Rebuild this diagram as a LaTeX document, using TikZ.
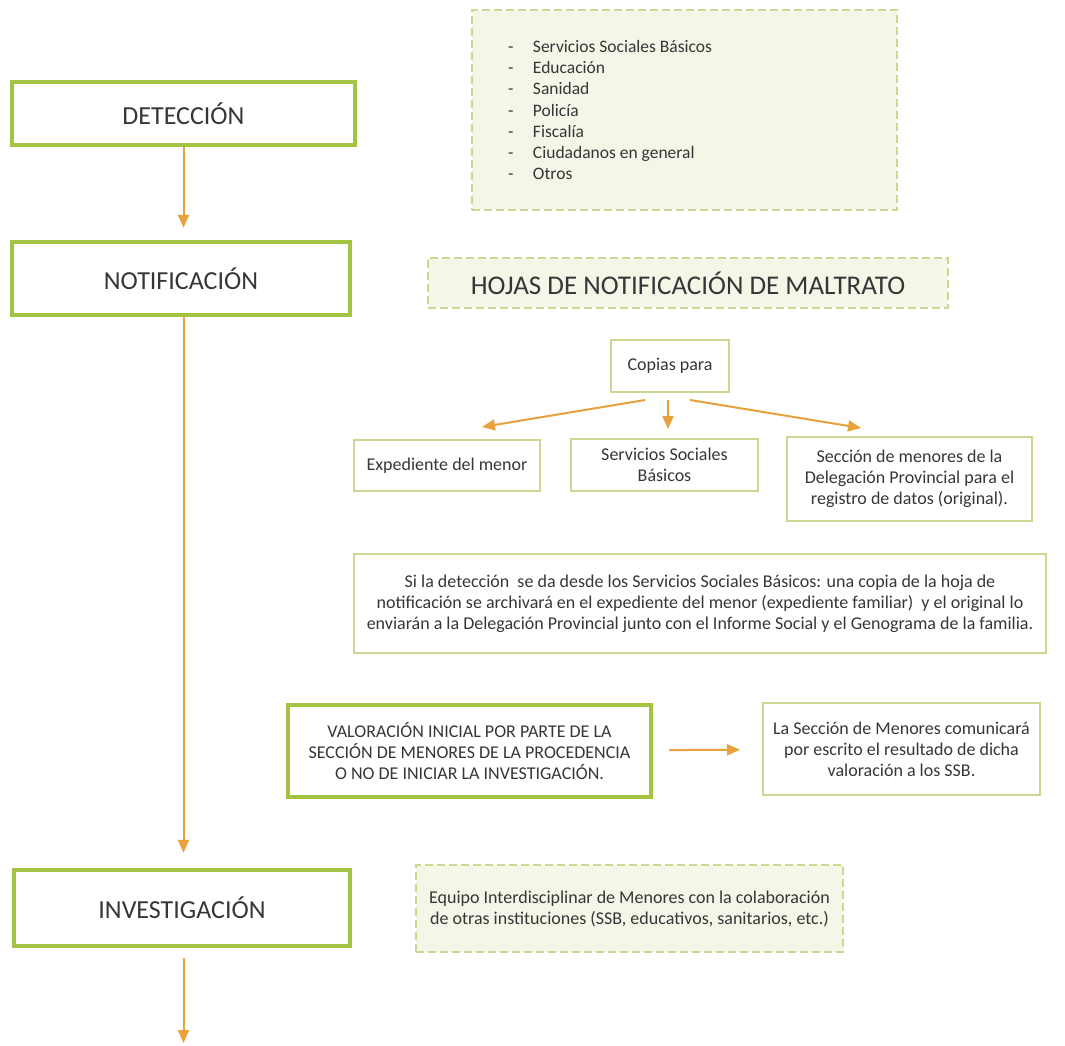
\documentclass[tikz,border=0pt]{standalone}
\usepackage{fontspec}
\setmainfont{Carlito}
\usepackage{xcolor}
\usetikzlibrary{arrows.meta}

\definecolor{stagegreen}{HTML}{A2C440}
\definecolor{edgegreen}{HTML}{C8DA92}
\definecolor{notefill}{HTML}{F4F6E8}
\definecolor{floworange}{HTML}{E9A23B}
\definecolor{inkgray}{HTML}{363636}

\tikzset{
  stage/.style={draw=stagegreen, line width=4.5pt, text=inkgray,
    font=\fontsize{26}{30}\selectfont},
  notebox/.style={draw=edgegreen, dash pattern=on 8pt off 4pt, fill=notefill,
    line width=1.6pt, text=inkgray},
  copybox/.style={draw=edgegreen, line width=2pt, text=inkgray, align=center,
    font=\fontsize{18}{21}\selectfont},
  flow/.style={draw=floworange, line width=2pt,
    -{Triangle[length=13pt,width=11pt]}},
}

\begin{document}
\begin{tikzpicture}[x=1pt,y=-1pt]
\useasboundingbox (0,0) rectangle (1065,1045);

% main stages on the left
\node[stage, minimum width=343pt, minimum height=63pt] (deteccion) at (183.5,113.5) {DETECCIÓN};
\node[stage, minimum width=338pt, minimum height=73pt] (notificacion) at (181,278.5) {NOTIFICACIÓN};
\node[stage, minimum width=336pt, minimum height=76pt] (investigacion) at (182,908) {INVESTIGACIÓN};
\coordinate (fin) at (183.5,1043);

% notes on the right
\node[notebox, minimum height=200pt, text width=353pt, inner xsep=36pt, align=flush left,
  font=\fontsize{17.5}{21.3}\selectfont] (agentes) at (684.5,110) {%
  \makebox[25pt][l]{-}Servicios Sociales Básicos\\
  \makebox[25pt][l]{-}Educación\\
  \makebox[25pt][l]{-}Sanidad\\
  \makebox[25pt][l]{-}Policía\\
  \makebox[25pt][l]{-}Fiscalía\\
  \makebox[25pt][l]{-}Ciudadanos en general\\
  \makebox[25pt][l]{-}Otros};
\node[notebox, minimum width=520pt, minimum height=50pt,
  font=\fontsize{27}{30}\selectfont] (hojas) at (688,283) {HOJAS DE NOTIFICACIÓN DE MALTRATO};

\node[copybox, minimum width=118pt, minimum height=52pt] (copias) at (670,366) {Copias para};
\node[copybox, minimum width=186pt, minimum height=51pt] (expediente) at (447,465.5) {Expediente del menor};
\node[copybox, minimum width=187pt, minimum height=52pt] (ssb) at (664.5,465) {Servicios Sociales\\Básicos};
\node[copybox, minimum width=245pt, minimum height=84pt] (seccion) at (909.5,479) {Sección de menores de la\\Delegación Provincial para el\\registro de datos (original).};

\node[copybox, minimum width=692pt, minimum height=99pt] (sidet) at (700,603.5) {Si la detección\ \ se da desde los Servicios Sociales Básicos: una copia de la hoja de\\notificación se archivará en el expediente del menor (expediente familiar)\ \ y el original lo\\enviarán a la Delegación Provincial junto con el Informe Social y el Genograma de la familia.};

\node[copybox, draw=stagegreen, line width=4.5pt, minimum width=363pt, minimum height=92pt] (valoracion) at (469.5,751) {VALORACIÓN INICIAL POR PARTE DE LA\\SECCIÓN DE MENORES DE LA PROCEDENCIA\\O NO DE INICIAR LA INVESTIGACIÓN.};
\node[copybox, minimum width=277pt, minimum height=92pt] (comunica) at (901.5,749) {La Sección de Menores comunicará\\por escrito el resultado de dicha\\valoración a los SSB.};

\node[notebox, minimum width=427pt, minimum height=87pt, align=center,
  font=\fontsize{18}{21}\selectfont] (equipo) at (629.5,908.5) {Equipo Interdisciplinar de Menores con la colaboración\\de otras instituciones (SSB, educativos, sanitarios, etc.)};

% flow arrows
\draw[flow, shorten >=12pt] (deteccion.south) -- (deteccion.south |- notificacion.north);
\draw[flow, shorten >=15pt] (deteccion.south |- notificacion.south) -- (deteccion.south |- investigacion.north);
\draw[flow, shorten <=10pt] (deteccion.south |- investigacion.south) -- (fin);
\draw[flow] ([xshift=-25pt,yshift=-7pt]copias.south) -- ([xshift=35pt,yshift=12pt]expediente.north);
\draw[flow] ([xshift=-2pt,yshift=-7pt]copias.south) -- ([xshift=3.5pt,yshift=9pt]ssb.north);
\draw[flow] ([xshift=20pt,yshift=-7pt]copias.south) -- ([xshift=-48.5pt,yshift=8pt]seccion.north);
\draw[flow, shorten <=16pt, shorten >=22pt] (valoracion) -- (comunica);
\end{tikzpicture}
\end{document}
